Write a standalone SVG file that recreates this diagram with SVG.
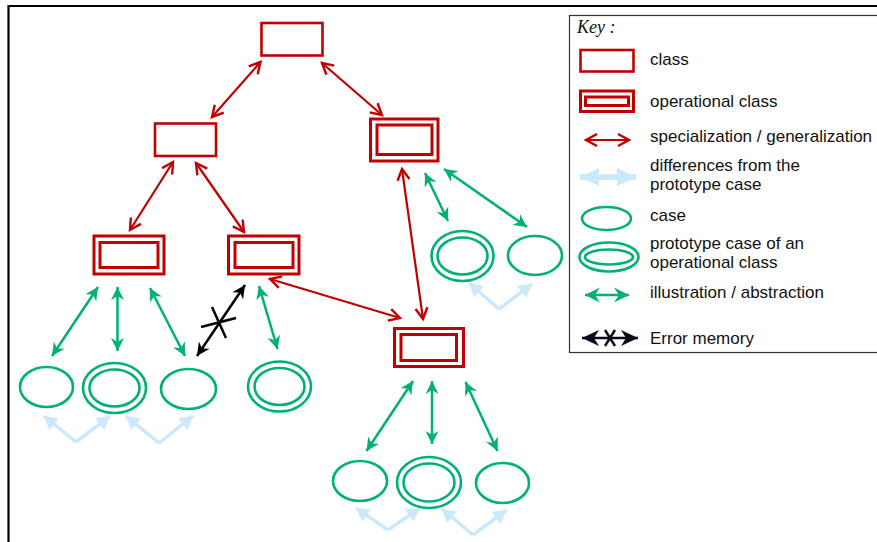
<svg xmlns="http://www.w3.org/2000/svg" width="877" height="542" viewBox="0 0 877 542">
<style>
.cls{fill:none;stroke:#c00000;stroke-width:2.6}
.op{fill:none;stroke:#c00000;stroke-width:3}
.cs{fill:none;stroke:#00b077;stroke-width:2.6}
.red{stroke:#c00000;stroke-width:2.2;fill:none;marker-start:url(#rh);marker-end:url(#rh)}
.grn{stroke:#00b077;stroke-width:2.5;fill:none;marker-start:url(#gh);marker-end:url(#gh)}
.blk{stroke:#000;stroke-width:2.5;fill:none}
.lb{stroke:#cce8fb;stroke-width:3.5;fill:none;marker-end:url(#lh)}
.lbl{font-family:"Liberation Sans",Arial,sans-serif;font-size:17px;fill:#111}
</style>
<defs>
<marker id="rh" viewBox="-14 -8 16 16" markerWidth="16" markerHeight="16" refX="0" refY="0" orient="auto-start-reverse" markerUnits="userSpaceOnUse" overflow="visible">
<path d="M-11,-6 L0,0 L-11,6" fill="none" stroke="#c00000" stroke-width="2.4"/>
</marker>
<marker id="gh" viewBox="-14 -8 16 16" markerWidth="16" markerHeight="16" refX="0" refY="0" orient="auto-start-reverse" markerUnits="userSpaceOnUse" overflow="visible">
<path d="M0,0 L-13,-6.5 L-9,0 L-13,6.5Z" fill="#00b077"/>
</marker>
<marker id="bh" viewBox="-14 -8 16 16" markerWidth="16" markerHeight="16" refX="0" refY="0" orient="auto-start-reverse" markerUnits="userSpaceOnUse" overflow="visible">
<path d="M0,0 L-13,-6.5 L-9,0 L-13,6.5Z" fill="#000"/>
</marker>
<marker id="lh" viewBox="-16 -9 18 18" markerWidth="18" markerHeight="18" refX="0" refY="0" orient="auto" markerUnits="userSpaceOnUse" overflow="visible">
<path d="M0,0 L-13,-7.5 L-13,7.5Z" fill="#cce8fb"/>
</marker>
<marker id="lhL" viewBox="-22 -10 24 20" markerWidth="24" markerHeight="20" refX="0" refY="0" orient="auto-start-reverse" markerUnits="userSpaceOnUse" overflow="visible">
<path d="M0,0 L-19,-9 L-19,9Z" fill="#cce8fb"/>
</marker>
<marker id="ghL" viewBox="-16 -9 18 18" markerWidth="18" markerHeight="18" refX="0" refY="0" orient="auto-start-reverse" markerUnits="userSpaceOnUse" overflow="visible">
<path d="M0,0 L-15,-7.5 L-10,0 L-15,7.5Z" fill="#00b077"/>
</marker>
<marker id="bhL" viewBox="-18 -9 20 18" markerWidth="20" markerHeight="18" refX="0" refY="0" orient="auto-start-reverse" markerUnits="userSpaceOnUse" overflow="visible">
<path d="M0,0 L-17,-8 L-12,0 L-17,8Z" fill="#0a0a1e"/>
</marker>
</defs>
<rect width="877" height="542" fill="#fff"/>
<path d="M8.5,542 L8.5,6 L877,6" fill="none" stroke="#000" stroke-width="2.2"/>

<g id="connectors">
<line class="red" x1="260.5" y1="62" x2="212" y2="117"/>
<line class="red" x1="322" y1="63" x2="382" y2="115"/>
<line class="red" x1="173" y1="162" x2="130" y2="230"/>
<line class="red" x1="196" y1="163" x2="244" y2="232"/>
<line class="red" x1="402" y1="169" x2="423" y2="319"/>
<line class="red" x1="270" y1="279" x2="400" y2="318"/>
<line class="grn" x1="425" y1="173" x2="448" y2="221"/>
<line class="grn" x1="444" y1="169" x2="527" y2="227"/>
<line class="grn" x1="98" y1="287" x2="52" y2="356"/>
<line class="grn" x1="117.5" y1="287" x2="117.5" y2="351"/>
<line class="grn" x1="150" y1="288" x2="185" y2="356"/>
<line class="grn" x1="259" y1="286" x2="277.5" y2="349"/>
<line class="grn" x1="413" y1="381" x2="366.5" y2="451"/>
<line class="grn" x1="432" y1="381" x2="432" y2="444"/>
<line class="grn" x1="465.5" y1="382" x2="497.5" y2="451"/>
<g id="error-link">
<line class="blk" x1="245" y1="285" x2="197" y2="356" marker-start="url(#bh)" marker-end="url(#bh)"/>
<line class="blk" x1="212" y1="307" x2="226" y2="338"/>
<line class="blk" x1="201" y1="327" x2="236" y2="318"/>
</g>
<line class="lb" x1="76" y1="442" x2="44" y2="416"/>
<line class="lb" x1="76" y1="442" x2="110" y2="416"/>
<line class="lb" x1="159" y1="443" x2="126" y2="416"/>
<line class="lb" x1="159" y1="443" x2="193" y2="416"/>
<line class="lb" x1="388" y1="530" x2="356" y2="508"/>
<line class="lb" x1="388" y1="530" x2="420" y2="508"/>
<line class="lb" x1="473" y1="535" x2="442" y2="509"/>
<line class="lb" x1="473" y1="535" x2="506.5" y2="510"/>
<line class="lb" x1="499" y1="309" x2="469" y2="283"/>
<line class="lb" x1="499" y1="309" x2="532" y2="284"/>
</g>

<g id="class-top"><rect class="cls" x="261.5" y="23" width="61" height="32.5"/></g>
<g id="class-mid"><rect class="cls" x="155" y="123.5" width="61" height="32.5"/></g>
<g id="op-right"><rect class="op" x="370.5" y="119" width="67.5" height="42"/><rect class="op" x="377" y="125" width="55" height="29.5"/></g>
<g id="op-left"><rect class="op" x="94" y="236" width="70" height="38"/><rect class="op" x="100" y="242.5" width="58" height="25"/></g>
<g id="op-mid"><rect class="op" x="228.5" y="236" width="70.5" height="38"/><rect class="op" x="235" y="242.5" width="58" height="25"/></g>
<g id="op-low"><rect class="op" x="394.5" y="328.5" width="69" height="38"/><rect class="op" x="401" y="334.5" width="55.5" height="26"/></g>

<g id="case-r1"><ellipse class="cs" cx="462.5" cy="256" rx="31" ry="25"/><ellipse class="cs" cx="462.5" cy="256" rx="25" ry="18.5"/></g>
<g id="case-r2"><ellipse class="cs" cx="535" cy="255.5" rx="27" ry="19.5"/></g>
<g id="case-l1"><ellipse class="cs" cx="46.5" cy="387" rx="26.5" ry="20"/></g>
<g id="case-l2"><ellipse class="cs" cx="114.5" cy="388" rx="31.5" ry="25"/><ellipse class="cs" cx="114.5" cy="388" rx="25" ry="18.5"/></g>
<g id="case-l3"><ellipse class="cs" cx="188.5" cy="389" rx="27.5" ry="20"/></g>
<g id="case-l4"><ellipse class="cs" cx="279.5" cy="386.5" rx="31.5" ry="25"/><ellipse class="cs" cx="279.5" cy="386.5" rx="25" ry="18.5"/></g>
<g id="case-b1"><ellipse class="cs" cx="360" cy="481" rx="27" ry="20"/></g>
<g id="case-b2"><ellipse class="cs" cx="429" cy="482.5" rx="32" ry="25.5"/><ellipse class="cs" cx="429" cy="482.5" rx="25.5" ry="19"/></g>
<g id="case-b3"><ellipse class="cs" cx="502.5" cy="483" rx="26.5" ry="20"/></g>

<g id="key">
<rect x="569.5" y="15.5" width="320" height="337" fill="#fff" stroke="#333" stroke-width="1.2"/>
<text x="577" y="33" font-family="'Liberation Serif','Times New Roman',serif" font-style="italic" font-size="18" fill="#111">Key :</text>
<rect class="cls" x="580.5" y="50" width="53" height="21.5"/>
<text class="lbl" x="650" y="65">class</text>
<rect class="op" x="580.5" y="91" width="53" height="20.5"/>
<rect class="op" x="585.5" y="97" width="43" height="8.5"/>
<text class="lbl" x="650" y="107">operational class</text>
<line x1="586" y1="140" x2="629" y2="140" stroke="#c00000" stroke-width="2.2" marker-start="url(#rh)" marker-end="url(#rh)"/>
<text class="lbl" x="650" y="142">specialization / generalization</text>
<line x1="580" y1="177" x2="636" y2="177" stroke="#cce8fb" stroke-width="6" marker-start="url(#lhL)" marker-end="url(#lhL)"/>
<text class="lbl" x="650" y="171">differences from the</text>
<text class="lbl" x="650" y="190">prototype case</text>
<ellipse class="cs" cx="606.5" cy="218.5" rx="24.5" ry="11.5"/>
<text class="lbl" x="650" y="221">case</text>
<ellipse class="cs" cx="609" cy="257" rx="29.5" ry="14.5" stroke-width="3"/>
<ellipse class="cs" cx="609" cy="257" rx="24" ry="7.5" stroke-width="3"/>
<text class="lbl" x="650" y="249">prototype case of an</text>
<text class="lbl" x="650" y="268">operational class</text>
<line x1="585" y1="295" x2="629" y2="295" stroke="#00b077" stroke-width="2.5" marker-start="url(#ghL)" marker-end="url(#ghL)"/>
<text class="lbl" x="650" y="298">illustration / abstraction</text>
<line x1="582" y1="338" x2="638" y2="338" stroke="#0a0a1e" stroke-width="2.5" marker-start="url(#bhL)" marker-end="url(#bhL)"/>
<line x1="605" y1="330" x2="615" y2="346" stroke="#0a0a1e" stroke-width="2.5"/>
<line x1="615" y1="330" x2="605" y2="346" stroke="#0a0a1e" stroke-width="2.5"/>
<text class="lbl" x="650" y="344">Error memory</text>
</g>
</svg>
